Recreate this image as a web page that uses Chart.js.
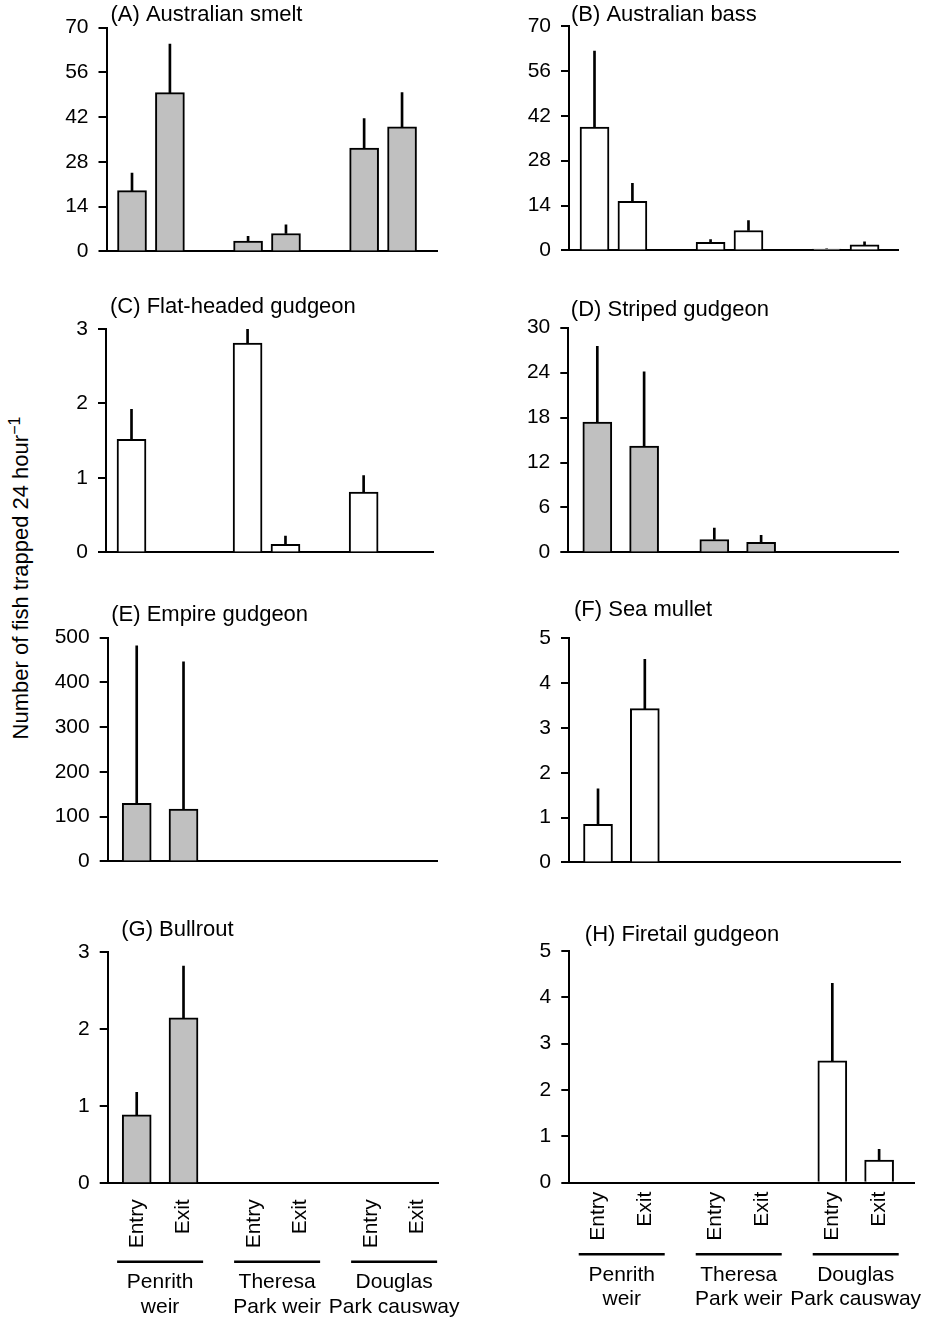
<!DOCTYPE html>
<html>
<head>
<meta charset="utf-8">
<script src="https://cdn.jsdelivr.net/npm/chart.js@4.4.1/dist/chart.umd.min.js"></script>
<style>
  body { margin: 0; background: #fff; }
  #page { position: relative; width: 935px; height: 1323px; overflow: hidden; font-family: 'Liberation Sans', Arial, sans-serif; }
  #page canvas { position: absolute; }
  #ytitle { position: absolute; left: 21px; top: 578px; transform: translate(-50%, -50%) rotate(-90deg); white-space: nowrap; font-size: 22px; color: #000; }
  #ytitle span { font-size: 16px; position: relative; top: -8px; }
</style>
</head>
<body>
<div id="page">
  <div id="ytitle">Number of fish trapped 24 hour<span>−1</span></div>
</div>
<script>
// sites and trap side, in plotting order
const sites = [['Penrith', 'weir'], ['Theresa', 'Park weir'], ['Douglas', 'Park causway']];
const conditions = ['Entry', 'Exit'];
const species = [
  '(A) Australian smelt', '(B) Australian bass', '(C) Flat-headed gudgeon', '(D) Striped gudgeon',
  '(E) Empire gudgeon', '(F) Sea mullet', '(G) Bullrout', '(H) Firetail gudgeon'
];

// mean and error per species: Penrith entry, exit, Theresa entry, exit, Douglas entry, exit
const smeltMean = [19.0, 49.7, 3.2, 5.6, 32.3, 39.0];
const smeltErr = [5.5, 15.2, 1.5, 2.7, 9.3, 10.7];
const bassMean = [38.5, 15.3, 2.5, 6.2, 0.4, 1.7];
const bassErr = [23.7, 5.6, 0.9, 3.1, 0.1, 1.0];
const flatMean = [1.52, 0, 2.81, 0.11, 0.81, 0];
const flatErr = [0.40, 0, 0.19, 0.11, 0.22, 0];
const stripedMean = [17.4, 14.2, 1.72, 1.33, 0, 0];
const stripedErr = [10.1, 9.9, 1.52, 0.95, 0, 0];
const empireMean = [130, 117, 0, 0, 0, 0];
const empireErr = [352, 329, 0, 0, 0, 0];
const mulletMean = [0.85, 3.43, 0, 0, 0, 0];
const mulletErr = [0.79, 1.10, 0, 0, 0, 0];
const bullroutMean = [0.89, 2.15, 0, 0, 0, 0];
const bullroutErr = [0.29, 0.67, 0, 0, 0, 0];
const firetailMean = [0, 0, 0, 0, 2.63, 0.49];
const firetailErr = [0, 0, 0, 0, 1.67, 0.23];

// y tick labels
const ticks70 = [0, 14, 28, 42, 56, 70];
const ticks30 = [0, 6, 12, 18, 24, 30];
const ticks500 = [0, 100, 200, 300, 400, 500];
const ticks5 = [0, 1, 2, 3, 4, 5];
const ticks3 = [0, 1, 2, 3];

Chart.defaults.font.family = "'Liberation Sans', Arial, sans-serif";
Chart.defaults.font.size = 21;
Chart.defaults.color = '#000';

const GREY = '#c0c0c0';
const SLOT_PX = 46.8;   // pixels per x slot

// bar spacing on the x axis (in slots): the top panels sit tighter than the rest
const narrow = { min: -0.545, pair: 0.81, site: 2.48 };
const wide = { min: -0.62, pair: 1, site: 2.5 };
const slotOf = (sp, i) => Math.floor(i / 2) * sp.site + (i % 2) * sp.pair;

// layout: plot area [left, top, right, bottom] and title offset
const panels = [
  { name: species[0], mean: smeltMean, err: smeltErr, yTicks: ticks70, fill: GREY, col: 0, sp: narrow, area: [106.5, 27.7, 437, 258.3], title: [4, -12.5] },
  { name: species[1], mean: bassMean, err: bassErr, yTicks: ticks70, fill: '#fff', col: 1, sp: narrow, area: [569, 26, 898, 257.3], title: [2, -11] },
  { name: species[2], mean: flatMean, err: flatErr, yTicks: ticks3, fill: '#fff', col: 0, sp: narrow, area: [106, 329, 433, 560], title: [4, -22] },
  { name: species[3], mean: stripedMean, err: stripedErr, yTicks: ticks30, fill: GREY, col: 1, sp: wide, area: [568.3, 327.7, 898, 559.3], title: [2.5, -18] },
  { name: species[4], mean: empireMean, err: empireErr, yTicks: ticks500, fill: GREY, col: 0, sp: wide, area: [107.7, 637.7, 437.7, 869], title: [3.5, -23] },
  { name: species[5], mean: mulletMean, err: mulletErr, yTicks: ticks5, fill: '#fff', col: 1, sp: wide, area: [569, 638.3, 900, 869.3], title: [5, -28] },
  { name: species[6], mean: bullroutMean, err: bullroutErr, yTicks: ticks3, fill: GREY, col: 0, sp: wide, area: [107.7, 952.3, 438.3, 1183.3], title: [13.5, -22], bottom: { pad: 16, line: 78.5, text: 105 } },
  { name: species[7], mean: firetailMean, err: firetailErr, yTicks: ticks5, fill: '#fff', col: 1, sp: wide, area: [569.3, 951, 914.3, 1182.7], title: [15.5, -16], bottom: { pad: 9, line: 71.5, text: 98 } }
];

// panel letter + species name above the plot
const titlePlugin = p => ({
  id: 'panelTitle',
  afterDraw(chart) {
    const { ctx, chartArea } = chart;
    ctx.save();
    ctx.font = "22px 'Liberation Sans', Arial, sans-serif";
    ctx.fillStyle = '#000';
    ctx.textAlign = 'left';
    ctx.textBaseline = 'middle';
    ctx.fillText(p.name, chartArea.left + p.title[0], chartArea.top + p.title[1]);
    ctx.restore();
  }
});

// site underline and names under the Entry/Exit labels
const sitePlugin = p => ({
  id: 'siteLabels',
  afterDraw(chart) {
    if (!p.bottom) return;
    const { ctx, chartArea, scales: { x } } = chart;
    ctx.save();
    ctx.strokeStyle = '#000';
    ctx.lineWidth = 2.5;
    ctx.fillStyle = '#000';
    ctx.font = "21px 'Liberation Sans', Arial, sans-serif";
    ctx.textAlign = 'center';
    ctx.textBaseline = 'alphabetic';
    sites.forEach((s, j) => {
      const c = (x.getPixelForValue(slotOf(p.sp, 2 * j)) + x.getPixelForValue(slotOf(p.sp, 2 * j + 1))) / 2;
      const y = chartArea.bottom + p.bottom.line;
      ctx.beginPath();
      ctx.moveTo(c - 43, y);
      ctx.lineTo(c + 43, y);
      ctx.stroke();
      ctx.fillText(s[0], c, chartArea.bottom + p.bottom.text);
      ctx.fillText(s[1], c, chartArea.bottom + p.bottom.text + 24.5);
    });
    ctx.restore();
  }
});

const page = document.getElementById('page');

panels.forEach(p => {
  const [left, top, right, bottom] = p.area;
  const cx = p.col === 0 ? 0 : 467;
  const cw = p.col === 0 ? 467 : 468;
  const cy = Math.max(0, Math.floor(top - 45));
  const ch = (p.bottom ? 1323 : Math.ceil(bottom + 15)) - cy;
  // tick labels are clipped to the axis box, so keep it tall enough for "Entry"
  const xH = p.bottom ? 70 : 0;

  const canvas = document.createElement('canvas');
  canvas.width = cw;
  canvas.height = ch;
  canvas.style.left = cx + 'px';
  canvas.style.top = cy + 'px';
  page.appendChild(canvas);

  const barData = p.mean.map((m, i) => ({ x: slotOf(p.sp, i), y: m })).filter(d => d.y > 0);
  const errData = p.mean
    .map((m, i) => (p.err[i] > 0 ? { x: slotOf(p.sp, i), y: [m, m + p.err[i]] } : null))
    .filter(Boolean);

  new Chart(canvas, {
    type: 'bar',
    data: {
      datasets: [
        { data: barData, backgroundColor: p.fill, borderColor: '#000', borderWidth: 2, barThickness: 29, grouped: false },
        { data: errData, backgroundColor: '#000', borderWidth: 0, barThickness: 2, grouped: false }
      ]
    },
    options: {
      responsive: false,
      animation: false,
      devicePixelRatio: 1,
      layout: {
        padding: { left: left - cx - 60, top: top - cy, right: cx + cw - right, bottom: cy + ch - bottom - xH }
      },
      plugins: { legend: { display: false }, tooltip: { enabled: false }, title: { display: false } },
      scales: {
        x: {
          type: 'linear',
          min: p.sp.min,
          max: p.sp.min + (right - left) / SLOT_PX,
          offset: false,
          bounds: 'data',
          grid: { display: false, drawTicks: false },
          border: { display: true, color: '#000', width: 2 },
          afterBuildTicks: s => { s.ticks = p.mean.map((m, i) => ({ value: slotOf(p.sp, i) })); },
          afterFit: s => { s.height = xH; },
          ticks: {
            display: !!p.bottom,
            autoSkip: false,
            minRotation: 90,
            maxRotation: 90,
            padding: p.bottom ? p.bottom.pad : 0,
            callback: (v, i) => conditions[i % 2]
          }
        },
        y: {
          min: 0,
          max: p.yTicks[p.yTicks.length - 1],
          afterBuildTicks: s => { s.ticks = p.yTicks.map(v => ({ value: v })); },
          afterFit: s => { s.width = 60; },
          grid: { drawOnChartArea: false, drawTicks: true, tickLength: 8, color: '#000', lineWidth: 2 },
          border: { display: true, color: '#000', width: 2 },
          ticks: { padding: 10 }
        }
      }
    },
    plugins: [titlePlugin(p), sitePlugin(p)]
  });
});
</script>
</body>
</html>
